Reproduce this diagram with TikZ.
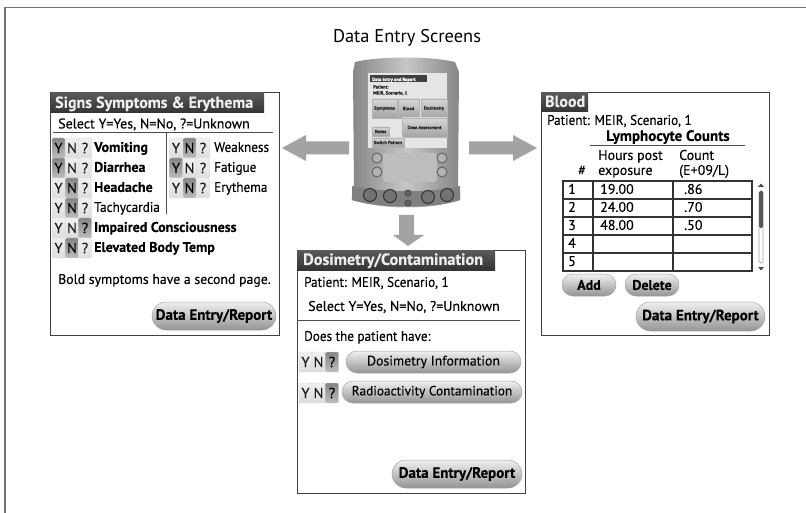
\documentclass[tikz,border=0pt]{standalone}
\usepackage{fontspec}
\setmainfont{PT Sans}[FakeBold=0.15,BoldFeatures={FakeBold=0.1}]
\newfontfamily\cond{PT Sans}[FakeStretch=0.94,FakeBold=0.15]
\newfontfamily\plain{PT Sans}
\usetikzlibrary{shapes.misc}
\newcommand{\fsz}[1]{\fontsize{#1}{#1}\selectfont}
\tikzset{
  x=1pt,y=-1pt,
  panel/.style={draw=black!75,line width=1pt,fill=white},
  titlebar/.style={top color=black!65,bottom color=black!80,draw=none},
  titletext/.style={anchor=mid west,inner sep=0,yshift=-1.4pt,text=white!93!black,font=\fsz{16}\bfseries},
  lab/.style={anchor=mid west,inner sep=0,yshift=-1.4pt,text=black,font=\fsz{14}},
  nlab/.style={anchor=mid west,inner sep=0,yshift=-1.4pt,text=black,font=\cond\fsz{14}},
  blab/.style={anchor=mid west,inner sep=0,yshift=-1.4pt,text=black,font=\fsz{14}\bfseries},
  clab/.style={anchor=mid,inner sep=0,yshift=-1.4pt,text=black,font=\fsz{14}},
  rule/.style={draw=black!70,line width=.8pt},
  btn/.style={rounded rectangle,draw=black!35,line width=.5pt,top color=black!6,bottom color=black!42,inner sep=0,text=black},
  cell/.style={rectangle,rounded corners=1pt,draw=black!15,line width=.4pt,top color=black!6,bottom color=black!13,inner sep=0,minimum height=20pt,font=\fsz{14.5},text=black!90},
  on/.style={top color=black!48,bottom color=black!26,text=black},
  grid/.style={draw=black!80,line width=1.1pt},
  blockarrow/.style={fill=black!36,draw=none},
  frameline/.style={draw=black!55,line width=1.6pt},
  pdabtn/.style={circle,inner sep=0,draw=black!60,line width=1pt,fill=black!45},
  pdakey/.style={rectangle,inner sep=0,draw=black!30,line width=.4pt,top color=black!16,bottom color=black!36,text=black!85,font=\fsz{4.6}\bfseries},
}
% \yn{name}{x1}{x2}{x3}{y}{selected:y,n,q}{width}
\newcommand{\yn}[7]{%
  \def\tmpsel{#6}%
  \def\tmpy{y}\def\tmpn{n}\def\tmpq{q}%
  \ifx\tmpsel\tmpy
    \node[cell,on,minimum width=#7pt] (#1y) at (#2,#5) {Y};
  \else
    \node[cell,minimum width=#7pt] (#1y) at (#2,#5) {Y};
  \fi
  \ifx\tmpsel\tmpn
    \node[cell,on,minimum width=#7pt] (#1n) at (#3,#5) {N};
  \else
    \node[cell,minimum width=#7pt] (#1n) at (#3,#5) {N};
  \fi
  \ifx\tmpsel\tmpq
    \node[cell,on,minimum width=#7pt] (#1q) at (#4,#5) {?};
  \else
    \node[cell,minimum width=#7pt] (#1q) at (#4,#5) {?};
  \fi
}
\begin{document}
\begin{tikzpicture}
\useasboundingbox (0,0) rectangle (806,513);
\fill[white] (0,0) rectangle (806,513);
% page frame
\draw[frameline] (806,7.5) -- (5,7.5) -- (5,513);
\node[clab,font=\plain\fsz{18.4}] (heading) at (407,39) {Data Entry Screens};

% block arrows
\fill[blockarrow] (349,141.5) -- (306,141.5) -- (306,135) -- (282,148) -- (306,161) -- (306,154.5) -- (349,154.5) -- cycle;
\fill[blockarrow] (469,141.5) -- (513,141.5) -- (513,135) -- (537,148) -- (513,161) -- (513,154.5) -- (469,154.5) -- cycle;
\fill[blockarrow] (399,215) -- (414,215) -- (414,235) -- (424,235) -- (408,246) -- (393,235) -- (399,235) -- cycle;

% handheld
\path[left color=black!48,right color=black!48,middle color=black!22]
  (355,62) .. controls (380,56) and (430,56) .. (455,62) -- (459,72) -- (458,190)
  .. controls (460,196) and (461,197) .. (460,200) .. controls (430,210) and (385,210) .. (352,200)
  .. controls (351,196) and (353,193) .. (354,190) -- (353,72) -- cycle;
\path[fill=black!50] (352,186) .. controls (385,193) and (430,193) .. (460,186) -- (460,200) .. controls (430,209) and (385,209) .. (352,200) -- cycle;
\fill[black!10] (368,73) rectangle (447,148);
\fill[black!75] (370,75) rectangle (427,82);
\node[anchor=mid west,inner sep=0,text=white,font=\fsz{4.6}\bfseries] (pdatitle) at (372,78.5) {Data Entry and Report};
\node[anchor=mid west,inner sep=0,text=black!85,font=\fsz{4.6}\bfseries] (pdap1) at (373,86) {Patient:};
\node[anchor=mid west,inner sep=0,text=black!85,font=\fsz{4.6}\bfseries] (pdap2) at (373,92) {MEIR, Scenario, 1};
\node[pdakey,minimum width=25pt,minimum height=19pt] (k1) at (384.5,108.5) {Symptoms};
\node[pdakey,minimum width=21pt,minimum height=19pt] (k2) at (408.5,108.5) {Blood};
\node[pdakey,minimum width=26pt,minimum height=19pt] (k3) at (434,108.5) {Dosimetry};
\node[pdakey,minimum width=45pt,minimum height=19pt] (k4) at (424.5,127.5) {Dose Assessment};
\node[pdakey,minimum width=17pt,minimum height=9pt] (k5) at (380.5,131.5) {Notes};
\node[pdakey,minimum width=32pt,minimum height=9pt] (k6) at (388,142.5) {Switch Patient};
\fill[rounded corners=3pt,black!26] (383,153) rectangle (437,182);
\foreach \nm/\px/\py in {a/377/158,b/377/172,c/442/158,d/442/172}
  \node[pdabtn,minimum size=10pt,fill=black!30] (r\nm) at (\px,\py) {};
\foreach \nm/\px/\py in {a/370/195,b/390/196,c/428/197,d/447/195}
  \node[pdabtn,minimum size=13pt,draw=black!80,fill=black!55] (s\nm) at (\px,\py) {};
\node[pdabtn,minimum size=6pt,draw=black!70,fill=black!60] (su) at (408,193) {};
\node[pdabtn,minimum size=6pt,draw=black!70,fill=black!60] (sd) at (408,203) {};

% ---- Signs Symptoms panel
\path[panel] (50.5,93) rectangle (279,335);
\path[titlebar] (51,93) rectangle (264,113);
\node[titletext] (t1) at (55,104) {Signs Symptoms \& Erythema};
\node[lab] (sel1) at (58,124.5) {Select Y=Yes, N=No, ?=Unknown};
\draw[rule] (53,132.5) -- (273,132.5);
\draw[rule] (166,133) -- (166,214);
\yn{v}{58.5}{72}{85}{148}{y}{13}
\yn{w}{58.5}{72}{85}{168}{y}{13}
\yn{x}{58.5}{72}{85}{188}{n}{13}
\yn{u}{58.5}{72}{85}{208}{n}{13}
\yn{z}{58.5}{72}{85}{228}{q}{13}
\yn{o}{58.5}{72}{85}{248}{n}{13}
\yn{a}{176}{189.5}{203}{148}{n}{13}
\yn{b}{176}{189.5}{203}{168}{y}{13}
\yn{c}{176}{189.5}{203}{188}{n}{13}
\node[blab] (s1) at (94,148) {Vomiting};
\node[blab] (s2) at (94,168) {Diarrhea};
\node[blab] (s3) at (94,188) {Headache};
\node[nlab]  (s4) at (94,208) {Tachycardia};
\node[blab] (s5) at (94,228) {Impaired Consciousness};
\node[blab] (s6) at (94,248) {Elevated Body Temp};
\node[nlab] (s7) at (214,148) {Weakness};
\node[nlab] (s8) at (214,168) {Fatigue};
\node[nlab] (s9) at (214,188) {Erythema};
\node[lab,font=\fsz{13.8}] (s10) at (58,280) {Bold symptoms have a second page.};
\node[btn,minimum width=124pt,minimum height=28pt,font=\fsz{15}\bfseries] (b1) at (214,316) {Data Entry/Report};

% ---- Blood panel
\path[panel] (541,92.5) rectangle (769,335);
\path[titlebar] (541,93) rectangle (588,112);
\node[titletext] (t2) at (545,103) {Blood};
\node[nlab] (p2) at (547,121) {Patient: MEIR, Scenario, 1};
\node[clab,font=\fsz{15}\bfseries] (lc) at (668,137) {Lymphocyte Counts};
\draw[rule] (590,145) -- (745,145);
\node[lab] (hp) at (598,156) {Hours post};
\node[lab] (ex) at (598,171) {exposure};
\node[clab] (hash) at (582,171) {\#};
\node[lab] (ct) at (679,156) {Count};
\node[lab] (un) at (679,171) {(E+09/L)};
\draw[grid] (563,181) rectangle (752,271);
\draw[grid] (593,181) -- (593,271);
\draw[grid] (673,181) -- (673,271);
\foreach \yy in {199,217,235,253} \draw[grid] (563,\yy) -- (752,\yy);
\foreach \lab/\yy in {1/190,2/208,3/226,4/244,5/262}
  \node[clab] (row\lab) at (572,\yy) {\lab};
\node[lab] (h1) at (600,190) {19.00};
\node[lab] (h2) at (600,208) {24.00};
\node[lab] (h3) at (600,226) {48.00};
\node[lab] (c1) at (684,190) {.86};
\node[lab] (c2) at (684,208) {.70};
\node[lab] (c3) at (684,226) {.50};
\fill[black!70] (758,187) -- (764,187) -- (761,183.5) -- cycle;
\fill[black!70] (758,267) -- (764,267) -- (761,270.5) -- cycle;
\draw[black!35,line width=.7pt,rounded corners=1.5pt] (759,191) rectangle (763,263);
\fill[black!65,rounded corners=1.5pt] (759,191) rectangle (763,228);
\node[btn,minimum width=54pt,minimum height=22pt,font=\fsz{14}\bfseries] (add) at (589,285) {Add};
\node[btn,minimum width=54pt,minimum height=22pt,font=\fsz{14}\bfseries] (del) at (652,285) {Delete};
\node[btn,minimum width=129pt,minimum height=29pt,font=\fsz{15}\bfseries] (b2) at (700.5,316.5) {Data Entry/Report};

% ---- Dosimetry panel
\path[panel] (297,251) rectangle (525,493);
\path[titlebar] (297,251) rectangle (495,270);
\node[titletext,font=\fsz{16.3}\bfseries] (t3) at (303,261) {Dosimetry/Contamination};
\node[nlab] (p3) at (304,283) {Patient: MEIR, Scenario, 1};
\node[lab] (sel3) at (308,307) {Select Y=Yes, N=No, ?=Unknown};
\draw[rule] (297,320) -- (520,320);
\node[nlab] (does) at (304,337) {Does the patient have:};
\yn{d}{305.5}{318.5}{332}{362}{q}{13}
\yn{e}{305.5}{318.5}{332}{393}{q}{13}
\node[btn,minimum width=175pt,minimum height=22pt,font=\fsz{13.8}] (b3) at (433.5,362) {Dosimetry Information};
\node[btn,minimum width=180pt,minimum height=22pt,font=\fsz{13.3}] (b4) at (432,392) {Radioactivity Contamination};
\node[btn,minimum width=130pt,minimum height=28pt,font=\fsz{15}\bfseries] (b5) at (457,474) {Data Entry/Report};
\end{tikzpicture}
\end{document}
